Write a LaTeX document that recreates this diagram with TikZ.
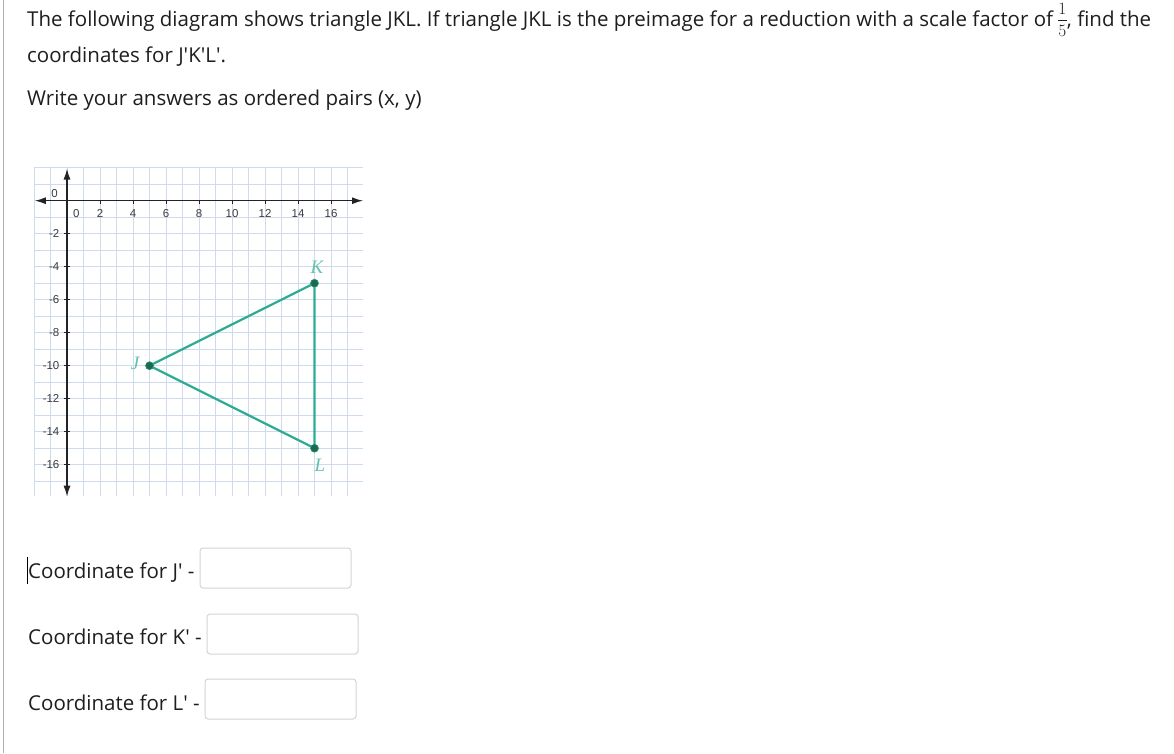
\documentclass[tikz,border=0pt]{standalone}
\usepackage[no-math]{fontspec}
\setmainfont{Open Sans}
\newfontfamily\tickfont{Liberation Sans}
\newfontfamily\ptfont{Liberation Serif}
\usetikzlibrary{arrows.meta}
\definecolor{gridc}{RGB}{206,219,237}
\definecolor{axisc}{RGB}{35,35,35}
\definecolor{tealc}{RGB}{45,172,148}
\definecolor{dotc}{RGB}{28,105,78}
\definecolor{lblc}{RGB}{95,195,170}
\definecolor{boxc}{RGB}{212,212,212}
\definecolor{railc}{RGB}{175,175,175}
\definecolor{txtc}{RGB}{30,30,30}
\definecolor{tickc}{RGB}{60,60,60}
\newcommand\ap{\textquotesingle}
\newcommand\fifthfrac{\begingroup\fontsize{16}{18}\selectfont
  \ooalign{\raisebox{12pt}{\hfil$1$\hfil}\cr
           \raisebox{-10.5pt}{\hfil$5$\hfil}\cr
           \rule[5.6pt]{8.5pt}{0.6pt}\cr}\endgroup}
\begin{document}
\begin{tikzpicture}[x=1pt,y=-1pt,
  qtext/.style={anchor=base west, inner sep=0pt, font=\fontsize{20.5}{24}\selectfont, text=txtc},
  inbox/.style={draw=boxc, rounded corners=3pt, line width=1pt, anchor=north west,
    minimum width=151pt, minimum height=40pt, inner sep=0pt},
  gridline/.style={gridc, line width=0.8pt},
  axisline/.style={axisc, line width=1.4pt, {Latex[length=11pt,width=7pt]}-{Latex[length=11pt,width=7pt]}},
  tickmark/.style={axisc, line width=0.8pt},
  tickl/.style={font=\tickfont\fontsize{11.5}{13}\selectfont, text=tickc, inner sep=0pt},
  tri/.style={tealc, line width=2.2pt, line join=round},
  ptdot/.style={circle, fill=dotc, draw=tealc!70!dotc, line width=0.6pt, minimum size=8pt, inner sep=0pt},
  ptlbl/.style={font=\ptfont\itshape\fontsize{19}{22}\selectfont, text=lblc, inner sep=0pt}
]
\useasboundingbox (0,0) rectangle (1174,753);
\fill[white] (0,0) rectangle (1174,753);
\draw[railc, line width=1.5pt] (3.5,0) -- (3.5,753);

\node[qtext] (q1) at (27,26) {The following diagram shows triangle JKL. If triangle JKL is the preimage for a reduction with a scale factor of \fifthfrac, find the};
\node[qtext] (q2) at (27,62) {coordinates for J\ap K\ap L\ap.};
\node[qtext] (q3) at (27,105) {Write your answers as ordered pairs (x, y)};

\node[qtext] (lj) at (28,578) {Coordinate for J\ap{} -};
\node[inbox] (bj) at (199.5,547.5) {};
\node[qtext] (lk) at (28,644) {Coordinate for K\ap{} -};
\node[inbox] (bk) at (206.5,613.5) {};
\node[qtext] (ll) at (28,710) {Coordinate for L\ap{} -};
\node[inbox] (bl) at (204.5,678.5) {};
\draw[black, line width=0.8pt] (27.3,557) -- (27.3,584);

\begin{scope}[shift={(67,200.7)}, x=16.5pt, y=16.5pt]
  \foreach \i in {-2,...,17} \draw[gridline] (\i,2) -- (\i,-17.9);
  \foreach \j in {-17,...,2} \draw[gridline] (-2,\j) -- (17.94,\j);
  \coordinate (xl) at (-1.95,0);
  \coordinate (xr) at (17.94,0);
  \coordinate (yt) at (0,1.95);
  \coordinate (yb) at (0,-17.94);
  \draw[axisline] (xl) -- (xr);
  \draw[axisline] (yt) -- (yb);
  \foreach \i in {2,4,...,16} {
    \draw[tickmark] (\i,0) -- ++(0,-3pt);
    \node[tickl] (tx\i) at (\i,-0.75) {\i};
  }
  \node[tickl] (tx0) at (0.56,-0.75) {0};
  \foreach \j in {2,4,...,16} {
    \draw[tickmark] ([xshift=-3pt]0,-\j) -- ([xshift=3pt]0,-\j);
    \node[tickl, anchor=east] (ty\j) at (-0.45,-\j) {-\j};
  }
  \node[tickl] (ty0) at (-0.75,0.45) {0};

  \coordinate (J) at (5,-10);
  \coordinate (K) at (15,-5);
  \coordinate (L) at (15,-15);
  \draw[tri] (J) -- (K) -- (L) -- cycle;
  \node[ptdot] (Jd) at (J) {};
  \node[ptdot] (Kd) at (K) {};
  \node[ptdot] (Ld) at (L) {};
  \node[ptlbl] (Jl) at (4.12,-9.84) {J};
  \node[ptlbl] (Kl) at (15.15,-4.02) {K};
  \node[ptlbl] (Ll) at (15.33,-16.02) {L};
\end{scope}
\end{tikzpicture}
\end{document}
